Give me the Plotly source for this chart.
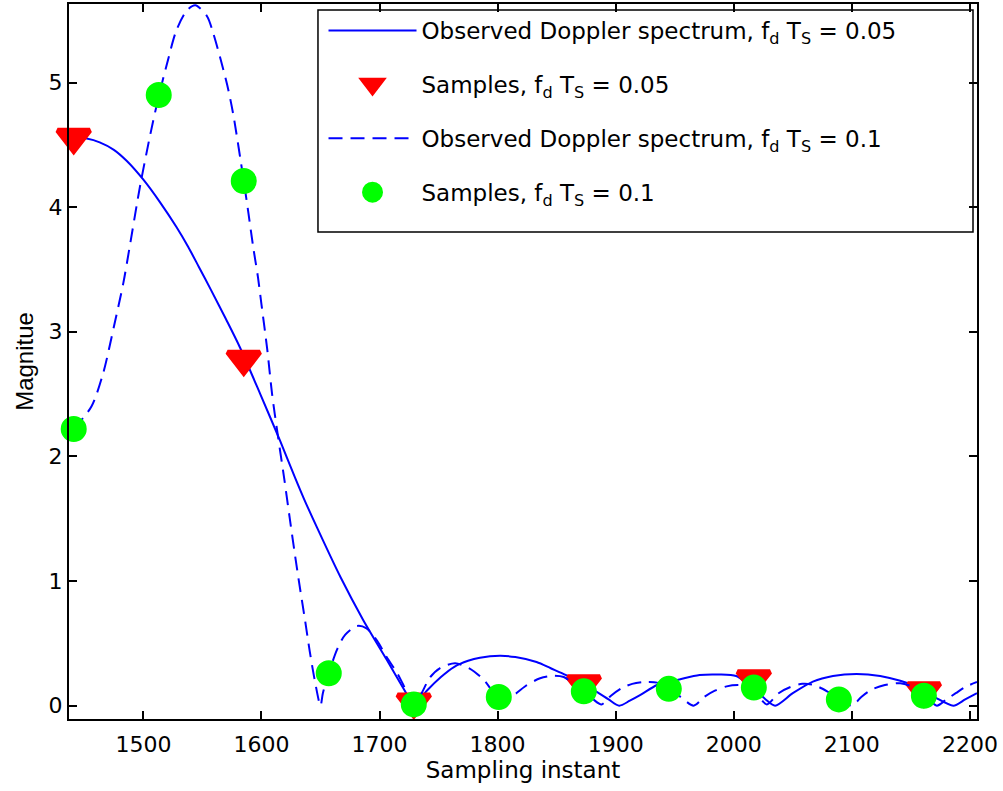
import plotly.graph_objects as go

# Observed Doppler spectrum magnitude, f_d T_S = 0.05 (solid curve)
spec05_x = [1441, 1452, 1463, 1475, 1486, 1500, 1514, 1528, 1538, 1547, 1557, 1570, 1582,
            1599, 1616, 1628, 1636, 1647, 1667, 1686, 1706, 1722, 1729, 1740, 1752,
            1763, 1775, 1785, 1802, 1815, 1833, 1845, 1858, 1872, 1884, 1894, 1903,
            1912, 1921, 1935, 1945, 1954, 1971, 1988, 2002, 2010, 2019, 2027, 2035,
            2050, 2067, 2084, 2104, 2124, 2141, 2155, 2165, 2172, 2186, 2196, 2206]
spec05_y = [4.56, 4.55, 4.52, 4.46, 4.37, 4.22, 4.04, 3.84, 3.68, 3.52, 3.34, 3.10, 2.87,
            2.50, 2.12, 1.84, 1.66, 1.43, 1.03, 0.69, 0.37, 0.11, 0.0, 0.12, 0.23,
            0.31, 0.36, 0.385, 0.40, 0.39, 0.35, 0.30, 0.245, 0.17, 0.11, 0.05, 0.0,
            0.04, 0.086, 0.166, 0.19, 0.21, 0.246, 0.25, 0.238, 0.19, 0.126, 0.05, 0.0,
            0.10, 0.193, 0.238, 0.254, 0.238, 0.20, 0.152, 0.10, 0.059, 0.0, 0.05, 0.10]

# Observed Doppler spectrum magnitude, f_d T_S = 0.1 (dashed curve)
spec10_x = [1441, 1456, 1466, 1475, 1483, 1488, 1497, 1506, 1513, 1520, 1528, 1537, 1544,
            1554, 1559, 1565, 1571, 1576, 1585, 1589, 1593, 1597, 1600, 1605, 1609,
            1614, 1619, 1624, 1629, 1633, 1637, 1641, 1645, 1650, 1652, 1657, 1664,
            1671, 1681, 1689, 1698, 1706, 1715, 1720, 1729, 1743, 1751, 1764, 1776,
            1788, 1796, 1804, 1812, 1824, 1836, 1847, 1856, 1865, 1873, 1881, 1888,
            1896, 1905, 1914, 1925, 1935, 1945, 1955, 1966, 1975, 1984, 1994, 2004,
            2012, 2020, 2028, 2038, 2048, 2058, 2066, 2072, 2080, 2089, 2100, 2108,
            2117, 2128, 2141, 2152, 2161, 2172, 2180, 2188, 2196, 2206]
spec10_y = [2.22, 2.40, 2.67, 3.04, 3.39, 3.66, 4.16, 4.59, 4.89, 5.15, 5.42, 5.58, 5.62,
            5.53, 5.40, 5.20, 4.98, 4.75, 4.21, 3.95, 3.68, 3.44, 3.22, 2.85, 2.50,
            2.16, 1.84, 1.50, 1.17, 0.92, 0.68, 0.43, 0.21, 0.0, 0.10, 0.26, 0.45,
            0.57, 0.64, 0.62, 0.52, 0.39, 0.26, 0.17, 0.01, 0.23, 0.30, 0.34, 0.30,
            0.21, 0.11, 0.02, 0.07, 0.16, 0.22, 0.24, 0.23, 0.17, 0.11, 0.05, 0.01,
            0.08, 0.14, 0.175, 0.19, 0.185, 0.13, 0.07, 0.0, 0.07, 0.12, 0.155, 0.165,
            0.155, 0.09, 0.01, 0.10, 0.15, 0.175, 0.17, 0.15, 0.11, 0.06, 0.0, 0.07,
            0.13, 0.165, 0.18, 0.15, 0.09, 0.0, 0.05, 0.10, 0.15, 0.19]

# Sampled values at the two sampling rates
samp05_x = [1441, 1585, 1729, 1873, 2017, 2161]
samp05_y = [4.56, 2.78, 0.03, 0.175, 0.215, 0.12]

samp10_x = [1441, 1513, 1585, 1657, 1729, 1801, 1873, 1945, 2017, 2089, 2161]
samp10_y = [2.22, 4.90, 4.21, 0.26, 0.01, 0.07, 0.115, 0.135, 0.145, 0.05, 0.08]

x_ticks = [1500, 1600, 1700, 1800, 1900, 2000, 2100, 2200]
y_ticks = [0, 1, 2, 3, 4, 5]

BLUE = "#0000FF"
RED = "#FF0000"
GREEN = "#00FF00"
FONT = "DejaVu Sans"

lbl = "f<sub>d</sub> T<sub>S</sub>"

fig = go.Figure()
fig.add_trace(go.Scatter(
    x=spec05_x, y=spec05_y, mode="lines",
    line=dict(color=BLUE, width=2, shape="spline", smoothing=0.8),
    name=f"Observed Doppler spectrum, {lbl} = 0.05", legendgroup="a",
))
fig.add_trace(go.Scatter(
    x=samp05_x, y=samp05_y, mode="markers",
    marker=dict(symbol="triangle-down", size=28, color=RED, line=dict(width=5, color=RED)),
    name=f"Samples, {lbl} = 0.05", legendgroup="b", cliponaxis=False,
))
fig.add_trace(go.Scatter(
    x=spec10_x, y=spec10_y, mode="lines",
    line=dict(color=BLUE, width=2, dash="14px,8px", shape="spline", smoothing=0.8),
    name=f"Observed Doppler spectrum, {lbl} = 0.1", legendgroup="c",
))
fig.add_trace(go.Scatter(
    x=samp10_x, y=samp10_y, mode="markers",
    marker=dict(symbol="circle", size=20, color=GREEN, line=dict(width=6, color=GREEN)),
    name=f"Samples, {lbl} = 0.1", legendgroup="d", cliponaxis=False,
))

axis_common = dict(
    showgrid=False, zeroline=False, showline=True, linecolor="black", linewidth=2,
    mirror="ticks", ticks="inside", ticklen=8, tickwidth=1.5, tickcolor="black",
    tickfont=dict(family=FONT, size=22, color="black"),
)

# frame drawn around the legend entries
legend_frame = dict(
    type="rect", xref="paper", yref="paper",
    x0=0.2742, x1=0.9956, y0=0.6811, y1=0.9916,
    line=dict(color="black", width=1.5), fillcolor="white", layer="below",
)

fig.update_layout(
    width=1003, height=791,
    margin=dict(l=69, r=26, t=4, b=72, autoexpand=False),
    paper_bgcolor="white", plot_bgcolor="white",
    xaxis=dict(range=[1437, 2206], tickvals=x_ticks, ticktext=[str(v) for v in x_ticks],
               ticklabelstandoff=5,
               title=dict(text="Sampling instant", font=dict(family=FONT, size=23, color="black"),
                          standoff=4),
               **axis_common),
    yaxis=dict(range=[-0.107, 5.63], tickvals=y_ticks, ticktext=[str(v) for v in y_ticks],
               title=dict(text="Magnitue", font=dict(family="Liberation Sans", size=24, color="black"),
                          standoff=8),
               **axis_common),
    shapes=[legend_frame],
    legend=dict(
        x=0.2803, y=0.993, xanchor="left", yanchor="top",
        bgcolor="rgba(0,0,0,0)", borderwidth=0,
        font=dict(family=FONT, size=23, color="black"),
        traceorder="grouped", tracegroupgap=21, itemwidth=88,
    ),
    showlegend=True,
)

fig.write_html("out.html")
